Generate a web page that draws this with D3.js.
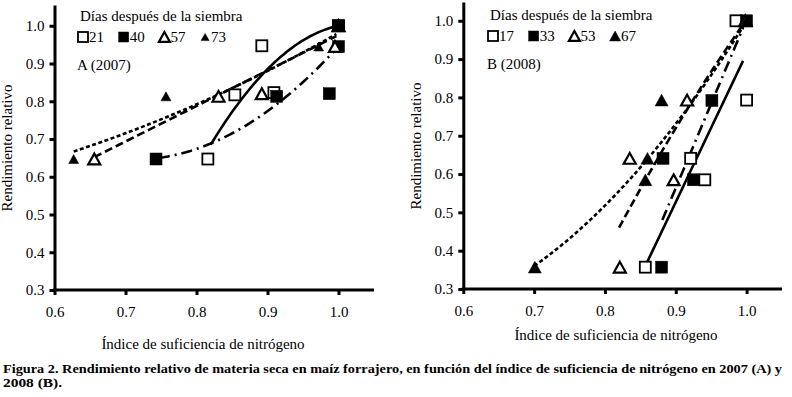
<!DOCTYPE html>
<html>
<head>
<meta charset="utf-8">
<script src="https://cdn.jsdelivr.net/npm/d3@7"></script>
<style>
    body { margin: 0; background: #fff; }
    text { font-family: 'Liberation Serif', serif; fill: #000; }
</style>
</head>
<body>
<div id="chart"></div>
<script>
// tick values shared by both panels
var xTicks = [0.6, 0.7, 0.8, 0.9, 1.0];
var yTicks = [0.3, 0.4, 0.5, 0.6, 0.7, 0.8, 0.9, 1.0];

// 2007 (A): days after sowing and observed points [index, relative yield]
var daysA = ["21", "40", "57", "73"];
var ptsA21 = [[0.816, 0.647], [0.854, 0.817], [0.892, 0.947], [0.909, 0.823], [1.0, 1.0]];
var ptsA40 = [[0.743, 0.647], [0.913, 0.813], [0.987, 0.82], [1.0, 1.0], [1.0, 0.945]];
var ptsA57 = [[0.656, 0.647], [0.831, 0.813], [0.892, 0.82], [0.995, 0.945], [1.0, 1.0]];
var ptsA73 = [[0.627, 0.647], [0.757, 0.813], [0.972, 0.945], [1.0, 1.0]];
// fitted trend lines: [xStart, xEnd, y at xStart, slope, curvature]
var fitA = [[0.82, 1.0, 0.685, 3.1, -7.5],
            [0.747, 1.0, 0.65, 0.258, 3.6],
            [0.656, 0.997, 0.652, 0.94, 0],
            [0.627, 0.997, 0.667, 0.616, 0.608]];

// 2008 (B)
var daysB = ["17", "33", "53", "67"];
var ptsB17 = [[0.985, 1.0], [1.0, 0.793], [0.921, 0.641], [0.941, 0.585], [0.857, 0.357]];
var ptsB33 = [[1.0, 1.0], [0.951, 0.792], [0.882, 0.641], [0.925, 0.585], [0.880, 0.357]];
var ptsB53 = [[0.998, 1.0], [0.916, 0.793], [0.835, 0.641], [0.897, 0.585], [0.821, 0.357]];
var ptsB67 = [[1.0, 1.0], [0.880, 0.793], [0.860, 0.641], [0.857, 0.585], [0.701, 0.357]];
var fitB = [[0.857, 0.995, 0.36, 3.88, 0],
            [0.881, 0.995, 0.48, 4.4, 0],
            [0.82, 0.995, 0.46, 3.436, -2.33],
            [0.70, 0.995, 0.36, 1.30, 2.77]];

var caption1 = "Figura 2. Rendimiento relativo de materia seca en maíz forrajero, en función del índice de suficiencia de nitrógeno en 2007 (A) y";
var caption2 = "2008  (B).";

var W = 792, H = 397;
var svg = d3.select("#chart").append("svg")
    .attr("width", W)
    .attr("height", H);

// marker + line style by series order
var markers = [
    {shape: "square", fill: "#fff", size: 11},
    {shape: "square", fill: "#000", size: 12},
    {shape: "triangle", fill: "#fff", size: 12},
    {shape: "triangle", fill: "#000", size: 10}
];
var dashes = [null, "11,5,2,5", "8,4", "4,2.5"];

function marker(g, m, cx, cy, size) {
    var s = size || m.size;
    if (m.shape == "square") {
        g.append("rect")
            .attr("x", cx - s / 2)
            .attr("y", cy - s / 2)
            .attr("width", s)
            .attr("height", s)
            .attr("fill", m.fill)
            .attr("stroke", "#000")
            .attr("stroke-width", m.fill == "#fff" ? 1.8 : 0.5);
    } else {
        var h = s * 0.9;
        g.append("path")
            .attr("d", "M" + cx + "," + (cy - h / 2) + "L" + (cx + s / 2) + "," + (cy + h / 2) +
                "L" + (cx - s / 2) + "," + (cy + h / 2) + "Z")
            .attr("fill", m.fill)
            .attr("stroke", "#000")
            .attr("stroke-width", m.fill == "#fff" ? 2.2 : 0.5)
            .attr("stroke-linejoin", "miter");
    }
}

function label(g, x, y, txt, size) {
    return g.append("text")
        .attr("x", x)
        .attr("y", y)
        .style("font-family", "'Liberation Serif'")
        .style("font-size", (size || 15) + "px")
        .text(txt);
}

function drawPanel(cfg) {
    var x = d3.scaleLinear().domain([0.6, 1.05]).range([cfg.left, cfg.right]);
    var y = d3.scaleLinear().domain([0.3, cfg.yMax]).range([cfg.bottom, cfg.top]);
    var g = svg.append("g");

    // trend lines
    var line = d3.line()
        .x(function(d) { return x(d[0]); })
        .y(function(d) { return y(d[1]); });
    cfg.fits.forEach(function(f, i) {
        var n = 40, pts = [];
        for (var k = 0; k <= n; k++) {
            var xx = f[0] + (f[1] - f[0]) * k / n, u = xx - f[0];
            pts.push([xx, f[2] + f[3] * u + f[4] * u * u]);
        }
        g.append("path")
            .datum(pts)
            .attr("d", line)
            .attr("fill", "none")
            .attr("stroke", "#000")
            .attr("stroke-width", 2.6)
            .attr("stroke-dasharray", dashes[i]);
    });

    // points
    cfg.series.forEach(function(s, i) {
        s.forEach(function(p) {
            marker(g, cfg.markers[i], x(p[0]), y(p[1]));
        });
    });

    // axes
    var xAxis = d3.axisBottom(x).tickValues(xTicks).tickFormat(d3.format(".1f"))
        .tickSizeInner(5).tickSizeOuter(0).tickPadding(11);
    var yAxis = d3.axisLeft(y).tickValues(yTicks).tickFormat(d3.format(".1f"))
        .tickSizeInner(5).tickSizeOuter(0).tickPadding(5);
    var gx = g.append("g")
        .attr("transform", "translate(0," + cfg.bottom + ")")
        .call(xAxis);
    var gy = g.append("g")
        .attr("transform", "translate(" + cfg.left + ",0)")
        .call(yAxis);
    [gx, gy].forEach(function(a) {
        a.select(".domain").attr("stroke", "#000").attr("stroke-width", 3);
        a.selectAll(".tick line").attr("stroke", "#000").attr("stroke-width", 3);
        a.selectAll(".tick text")
            .style("font-family", "'Liberation Serif'")
            .style("font-size", "15px")
            .attr("fill", "#000");
    });
    // extend x domain line over the y axis corner
    gx.select(".domain").attr("d", "M" + (cfg.left - 1.5) + ",0H" + cfg.right);

    // axis titles
    label(g, cfg.xTitleX, cfg.xTitleY, "Índice de suficiencia de nitrógeno")
        .attr("text-anchor", "middle");
    label(g, 0, 0, "Rendimiento relativo")
        .attr("transform", "translate(" + cfg.yTitleX + "," + cfg.yTitleY + ") rotate(-90)")
        .attr("text-anchor", "middle");

    // legend
    label(g, cfg.legX, cfg.legY, "Días después de la siembra");
    cfg.days.forEach(function(d, i) {
        var lx = cfg.legX + cfg.legStep * i;
        marker(g, cfg.markers[i], lx + 3, cfg.legY + 16, cfg.legSizes[i]);
        label(g, lx + 9, cfg.legY + 21, d);
    });
    label(g, cfg.legX - 3, cfg.legY + 49, cfg.label);
}

drawPanel({
    left: 54.5, right: 374, top: 5, bottom: 290, yMax: 1.055,
    series: [ptsA21, ptsA40, ptsA57, ptsA73], fits: fitA, days: daysA,
    markers: markers, legSizes: [10, 10, 11, 8],
    legX: 80, legY: 21, legStep: 40.7, label: "A (2007)",
    xTitleX: 203, xTitleY: 349, yTitleX: 12, yTitleY: 148
});

drawPanel({
    left: 463.3, right: 782, top: 2, bottom: 289, yMax: 1.049,
    series: [ptsB17, ptsB33, ptsB53, ptsB67], fits: fitB, days: daysB,
    markers: [markers[0], markers[1], markers[2], {shape: "triangle", fill: "#000", size: 13}],
    legSizes: [10, 10, 11, 11],
    legX: 490, legY: 20, legStep: 40.7, label: "B (2008)",
    xTitleX: 616, xTitleY: 340, yTitleX: 421, yTitleY: 146
});

// figure caption
label(svg, 3, 373, caption1, 12.5)
    .style("font-weight", "bold")
    .attr("textLength", 779)
    .attr("lengthAdjust", "spacingAndGlyphs");
label(svg, 3, 387, caption2, 12.5)
    .style("font-weight", "bold")
    .attr("textLength", 59)
    .attr("lengthAdjust", "spacingAndGlyphs");
</script>
</body>
</html>
